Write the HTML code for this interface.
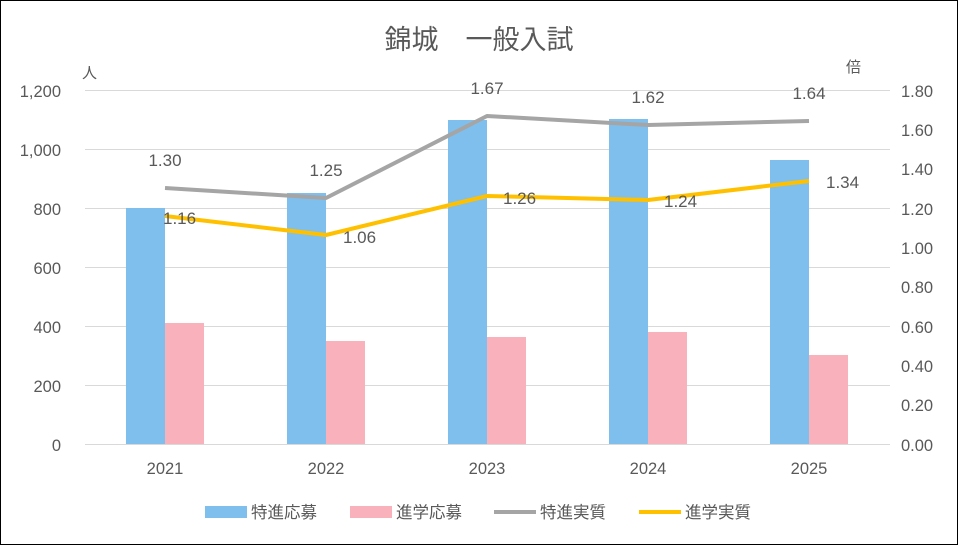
<!DOCTYPE html>
<html><head><meta charset="utf-8"><style>
body{margin:0;background:#fff}
svg{display:block}
text{font-family:"Liberation Sans","Noto Sans CJK JP",sans-serif;fill:#595959}
</style></head><body>
<svg width="958" height="545" viewBox="0 0 958 545">
<rect x="0.5" y="0.5" width="957" height="544" fill="#fff" stroke="#000" stroke-width="1"/>
<text x="479" y="49" font-size="27" text-anchor="middle">錦城　一般入試</text>
<g stroke="#d9d9d9" stroke-width="1">
<line x1="85" x2="890" y1="90.5" y2="90.5"/><line x1="85" x2="890" y1="149.5" y2="149.5"/>
<line x1="85" x2="890" y1="208.5" y2="208.5"/><line x1="85" x2="890" y1="267.5" y2="267.5"/>
<line x1="85" x2="890" y1="326.5" y2="326.5"/><line x1="85" x2="890" y1="385.5" y2="385.5"/>
<line x1="85" x2="890" y1="444.5" y2="444.5"/>
</g>
<g font-size="16.5" text-anchor="end">
<text x="61" y="97">1,200</text><text x="61" y="156">1,000</text><text x="61" y="215">800</text>
<text x="61" y="274">600</text><text x="61" y="333">400</text><text x="61" y="392">200</text><text x="61" y="451">0</text>
</g>
<g font-size="16.5" text-anchor="start">
<text x="901" y="97">1.80</text><text x="901" y="136">1.60</text><text x="901" y="175">1.40</text>
<text x="901" y="215">1.20</text><text x="901" y="254">1.00</text><text x="901" y="293">0.80</text>
<text x="901" y="333">0.60</text><text x="901" y="372">0.40</text><text x="901" y="411">0.20</text><text x="901" y="451">0.00</text>
</g>
<text x="82" y="78" font-size="15">人</text>
<text x="846" y="72" font-size="15">倍</text>
<g fill="#7fbfed">
<rect x="126" y="208" width="39" height="236"/><rect x="287" y="193" width="39" height="251"/>
<rect x="448" y="120" width="39" height="324"/><rect x="609" y="119" width="39" height="325"/>
<rect x="770" y="160" width="39" height="284"/>
</g>
<g fill="#f9b1bc">
<rect x="165" y="323" width="39" height="121"/><rect x="326" y="341" width="39" height="103"/>
<rect x="487" y="337" width="39" height="107"/><rect x="648" y="332" width="39" height="112"/>
<rect x="809" y="355" width="39" height="89"/>
</g>
<polyline points="165,188 326,198 487,116 648,125 809,121" fill="none" stroke="#a5a5a5" stroke-width="4" stroke-linejoin="round"/>
<polyline points="165,216 326,235 487,196 648,200 809,181" fill="none" stroke="#ffc000" stroke-width="4" stroke-linejoin="round"/>
<g font-size="17" text-anchor="middle">
<text x="165" y="166">1.30</text><text x="326" y="176">1.25</text><text x="487" y="94">1.67</text>
<text x="648" y="103">1.62</text><text x="809" y="99">1.64</text>
</g>
<g font-size="17" text-anchor="start">
<text x="163" y="224">1.16</text><text x="343" y="243">1.06</text><text x="503" y="204">1.26</text>
<text x="664" y="207">1.24</text><text x="826" y="188">1.34</text>
</g>
<g font-size="16.5" text-anchor="middle">
<text x="165" y="474">2021</text><text x="326" y="474">2022</text><text x="487" y="474">2023</text>
<text x="648" y="474">2024</text><text x="809" y="474">2025</text>
</g>
<rect x="205" y="506" width="42" height="12" fill="#7fbfed"/>
<text x="251" y="518" font-size="16.5">特進応募</text>
<rect x="350" y="506" width="42" height="12" fill="#f9b1bc"/>
<text x="396" y="518" font-size="16.5">進学応募</text>
<line x1="494" x2="536" y1="512" y2="512" stroke="#a5a5a5" stroke-width="4"/>
<text x="540" y="518" font-size="16.5">特進実質</text>
<line x1="639" x2="681" y1="512" y2="512" stroke="#ffc000" stroke-width="4"/>
<text x="685" y="518" font-size="16.5">進学実質</text>
</svg>
</body></html>
